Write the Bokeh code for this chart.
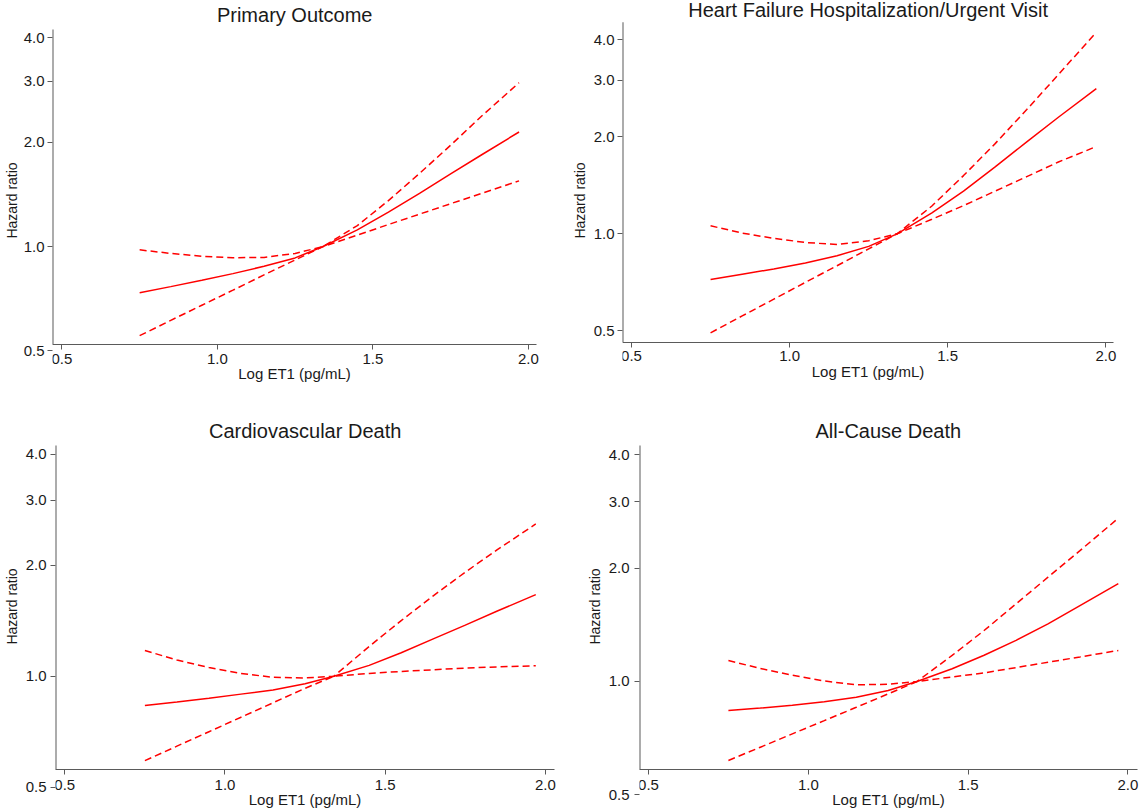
from bokeh.plotting import figure
from bokeh.layouts import column, row
from bokeh.models import Range1d, FixedTicker, PrintfTickFormatter
from bokeh.core.properties import value
from bokeh.embed import file_html
from bokeh.resources import INLINE

# ---------------- data ----------------
log_et1 = [0.75, 0.85, 0.95, 1.05, 1.15, 1.25, 1.34, 1.45, 1.55, 1.65, 1.75, 1.85, 1.97]

titles = ["Primary Outcome", "Heart Failure Hospitalization/Urgent Visit",
          "Cardiovascular Death", "All-Cause Death"]

hr_primary = [0.735, 0.766, 0.799, 0.835, 0.877, 0.927, 1.0, 1.117, 1.257, 1.424, 1.62, 1.84, 2.14]
lo_primary = [0.553, 0.612, 0.677, 0.748, 0.828, 0.914, 1.0, 1.079, 1.157, 1.24, 1.329, 1.424, 1.547]
up_primary = [0.978, 0.955, 0.937, 0.928, 0.930, 0.955, 1.0, 1.149, 1.357, 1.625, 1.96, 2.38, 2.97]

hr_hf = [0.721, 0.749, 0.778, 0.812, 0.855, 0.914, 1.0, 1.161, 1.357, 1.613, 1.93, 2.30, 2.82]
lo_hf = [0.493, 0.556, 0.627, 0.707, 0.796, 0.898, 1.0, 1.11, 1.223, 1.357, 1.505, 1.67, 1.866]
up_hf = [1.059, 1.005, 0.968, 0.94, 0.926, 0.952, 1.0, 1.22, 1.516, 1.905, 2.43, 3.12, 4.22]

hr_cvd = [0.833, 0.851, 0.871, 0.894, 0.917, 0.954, 1.0, 1.07, 1.158, 1.262, 1.376, 1.502, 1.664]
lo_cvd = [0.59, 0.646, 0.707, 0.774, 0.847, 0.927, 1.0, 1.017, 1.030, 1.041, 1.052, 1.060, 1.067]
up_cvd = [1.174, 1.106, 1.056, 1.017, 0.993, 0.989, 1.0, 1.204, 1.415, 1.652, 1.915, 2.204, 2.587]

hr_acd = [0.837, 0.85, 0.865, 0.884, 0.908, 0.946, 1.0, 1.081, 1.174, 1.286, 1.423, 1.591, 1.82]
lo_acd = [0.617, 0.669, 0.726, 0.787, 0.854, 0.927, 1.0, 1.028, 1.054, 1.089, 1.125, 1.162, 1.209]
up_acd = [1.137, 1.083, 1.039, 1.003, 0.98, 0.983, 1.0, 1.173, 1.366, 1.608, 1.893, 2.227, 2.715]

x_ticks = [0.5, 1.0, 1.5, 2.0]
y_ticks = [0.5, 1.0, 2.0, 3.0, 4.0]
x_label = "Log ET1 (pg/mL)"
y_label = "Hazard ratio"

# ---------------- styling / layout ----------------
FONT = "Liberation Sans"
RED = "#ff0000"
AXIS = "#5a5a5a"
TXT = "#1a1a1a"


def make_panel(title, hr, lo, up, cfg):
    xr, yr = cfg["xr"], cfg["yr"]
    fw, fh = cfg["frame"]
    p = figure(frame_width=fw, frame_height=fh, title=None,
               min_border_left=cfg["left"], min_border_right=0,
               min_border_top=0, min_border_bottom=0,
               x_range=Range1d(*xr), y_range=Range1d(*yr), y_axis_type="log",
               output_backend="svg", toolbar_location=None)
    p.outline_line_color = None
    p.background_fill_color = "white"
    p.border_fill_color = "white"
    p.xgrid.grid_line_color = None
    p.ygrid.grid_line_color = None

    for ax in (p.xaxis[0], p.yaxis[0]):
        ax.axis_line_color = AXIS
        ax.axis_line_width = 1
        ax.major_tick_line_color = AXIS
        ax.major_tick_out = 5
        ax.major_tick_in = 0
        ax.minor_tick_line_color = None
        ax.major_label_text_font = FONT
        ax.major_label_text_font_size = "15px"
        ax.major_label_text_color = TXT
        ax.axis_label_text_font = FONT
        ax.axis_label_text_font_style = "normal"
        ax.axis_label_text_color = TXT
        ax.formatter = PrintfTickFormatter(format="%.1f")

    # x axis sits at the foot of the y axis (the frame runs on below it)
    p.xaxis.ticker = FixedTicker(ticks=x_ticks)
    p.xaxis.fixed_location = cfg["base"]
    p.xaxis.bounds = (xr[0], cfg["xend"])
    p.xaxis.axis_label = x_label
    p.xaxis.axis_label_text_font_size = "15px"
    p.xaxis.major_label_standoff = cfg["xstd"]
    p.xaxis.axis_label_standoff = -2

    p.yaxis.ticker = FixedTicker(ticks=y_ticks)
    p.yaxis.axis_label = y_label
    p.yaxis.axis_label_text_font_size = "14px"
    p.yaxis.major_label_standoff = cfg["ystd"]
    p.yaxis.axis_label_standoff = cfg["ylstd"]
    p.yaxis.axis_line_color = None
    # visible y-axis line: from the x axis up to the top of the axis
    p.segment(x0=[xr[0]], y0=[cfg["base"]], x1=[xr[0]], y1=[cfg["ytop"]],
              line_color=AXIS, line_width=2)

    p.line(log_et1, hr, line_color=RED, line_width=1.5)
    p.line(log_et1, lo, line_color=RED, line_width=1.5, line_dash="7 4")
    p.line(log_et1, up, line_color=RED, line_width=1.5, line_dash="7 4")

    p.text(x=[(xr[0] + cfg["xend"]) / 2], y=[cfg["ttl"]], text=[title],
           text_align="center", text_baseline="middle",
           text_font=value(FONT), text_font_size="20px", text_color=TXT)
    return p


cfg1 = dict(xr=(0.4698, 2.1033), xend=2.0274, yr=(0.3594, 5.128), base=0.5213,
            ytop=4.23, ttl=4.642, left=52, frame=(508, 400), xstd=4, ystd=3, ylstd=1)
cfg2 = dict(xr=(0.4715, 2.1065), xend=2.0253, yr=(0.3039, 5.297), base=0.4606,
            ytop=4.535, ttl=4.95, left=62, frame=(517, 400), xstd=4, ystd=3, ylstd=3)
cfg3 = dict(xr=(0.471, 2.1127), xend=2.0294, yr=(0.4269, 5.593), base=0.5574,
            ytop=4.22, ttl=4.629, left=54, frame=(526, 412), xstd=5, ystd=4, ylstd=3)
cfg4 = dict(xr=(0.4718, 2.0394), xend=2.029, yr=(0.4487, 5.579), base=0.5827,
            ytop=4.237, ttl=4.616, left=58, frame=(501, 412), xstd=5, ystd=5, ylstd=3)

p1 = make_panel(titles[0], hr_primary, lo_primary, up_primary, cfg1)
p2 = make_panel(titles[1], hr_hf, lo_hf, up_hf, cfg2)
p3 = make_panel(titles[2], hr_cvd, lo_cvd, up_cvd, cfg3)
p4 = make_panel(titles[3], hr_acd, lo_acd, up_acd, cfg4)

layout = column(row(p1, p2), row(p3, p4))
open("out.html", "w").write(file_html(layout, INLINE))
